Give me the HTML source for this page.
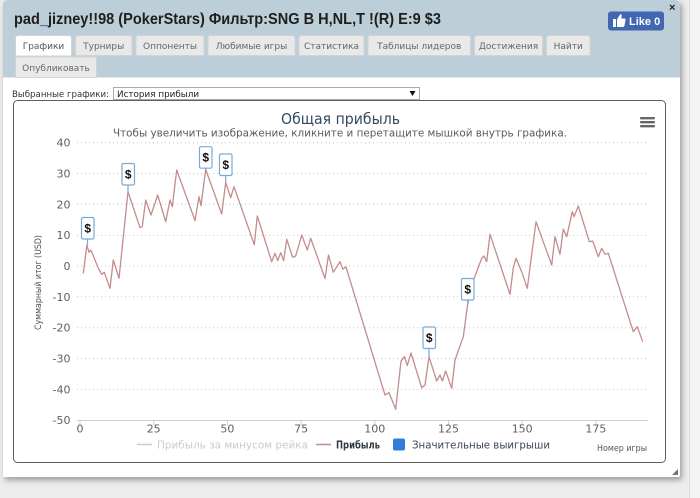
<!DOCTYPE html>
<html>
<head>
<meta charset="utf-8">
<style>
html,body{margin:0;padding:0;width:700px;height:498px;overflow:hidden;background:#ececec;}
svg{display:block;}
.dv{font-family:"DejaVu Sans","Liberation Sans","Noto Sans CJK SC",sans-serif;}
.lb{font-family:"Liberation Sans","DejaVu Sans","Noto Sans CJK SC",sans-serif;}
</style>
</head>
<body>
<svg width="700" height="498" viewBox="0 0 700 498" xmlns="http://www.w3.org/2000/svg">
  <defs>
    <filter id="sh" x="-5%" y="-5%" width="112%" height="112%">
      <feDropShadow dx="2" dy="3" stdDeviation="3" flood-color="#000" flood-opacity="0.35"/>
    </filter>
  </defs>
  <!-- page background -->
  <rect x="0" y="0" width="700" height="498" fill="#ececec"/>
  <rect x="690" y="0" width="10" height="498" fill="#f4f4f4"/>
  <line x1="689.5" y1="0" x2="689.5" y2="498" stroke="#dedede"/>

  <!-- modal -->
  <path d="M3,477 V5 Q3,0 8,0 H675 Q680,0 680,5 V475 Q680,477 678,477 Z" fill="#ffffff" filter="url(#sh)"/>
  <path d="M3,77.5 V5 Q3,0 8,0 H675 Q680,0 680,5 V77.5 Z" fill="#bccfd8"/>

  <!-- title -->
  <text class="lb" x="14" y="24" font-size="15.5" font-weight="bold" fill="#1e1e1e" textLength="427" lengthAdjust="spacingAndGlyphs">pad_jizney!!98 (PokerStars) Фильтр:SNG B H,NL,T !(R) E:9 $3</text>

  <!-- like button -->
  <rect x="608" y="11.5" width="56" height="19" rx="3" fill="#4267b2"/>
  <path d="M613,19 h3 v8 h-3 z M617,19.5 l3,-5 q1.5,-1 1.8,1 l-0.6,3 h3.3 q1.2,0.3 1,1.6 l-1,5.5 q-0.3,1.3 -1.6,1.4 h-5.9 z" fill="#ffffff"/>
  <text class="lb" x="629" y="25" font-size="11" font-weight="bold" fill="#ffffff">Like 0</text>
  <!-- close -->
  <text class="lb" x="669" y="11" font-size="11" font-weight="bold" fill="#222">×</text>

  <!-- tabs row 1 -->
  <g class="dv" font-size="9" fill="#666" text-anchor="middle">
    <path d="M15.5,56 V38 Q15.5,35.5 18,35.5 H69 Q71.5,35.5 71.5,38 V56 Z" fill="#ffffff" stroke="#d3d3d3"/>
    <text x="43.5" y="49" fill="#555">Графики</text>
    <path d="M75.5,55.5 V38 Q75.5,35.5 78,35.5 H129.5 Q132,35.5 132,38 V55.5 Z" fill="#e9e9e9" stroke="#d3d3d3"/>
    <text x="103.7" y="49">Турниры</text>
    <path d="M136,55.5 V38 Q136,35.5 138.5,35.5 H201.5 Q204,35.5 204,38 V55.5 Z" fill="#e9e9e9" stroke="#d3d3d3"/>
    <text x="170" y="49">Оппоненты</text>
    <path d="M208,55.5 V38 Q208,35.5 210.5,35.5 H292.5 Q295,35.5 295,38 V55.5 Z" fill="#e9e9e9" stroke="#d3d3d3"/>
    <text x="251.5" y="49">Любимые игры</text>
    <path d="M299,55.5 V38 Q299,35.5 301.5,35.5 H361.5 Q364,35.5 364,38 V55.5 Z" fill="#e9e9e9" stroke="#d3d3d3"/>
    <text x="331.5" y="49">Статистика</text>
    <path d="M368,55.5 V38 Q368,35.5 370.5,35.5 H468 Q470.5,35.5 470.5,38 V55.5 Z" fill="#e9e9e9" stroke="#d3d3d3"/>
    <text x="419.2" y="49">Таблицы лидеров</text>
    <path d="M474.5,55.5 V38 Q474.5,35.5 477,35.5 H540 Q542.5,35.5 542.5,38 V55.5 Z" fill="#e9e9e9" stroke="#d3d3d3"/>
    <text x="508.5" y="49">Достижения</text>
    <path d="M546.5,55.5 V38 Q546.5,35.5 549,35.5 H587.5 Q590,35.5 590,38 V55.5 Z" fill="#e9e9e9" stroke="#d3d3d3"/>
    <text x="568.2" y="49">Найти</text>
    <!-- row 2 -->
    <path d="M15.5,77.5 V59.5 Q15.5,57 18,57 H94 Q96.5,57 96.5,59.5 V77.5 Z" fill="#e9e9e9" stroke="#d3d3d3"/>
    <text x="56" y="71">Опубликовать</text>
  </g>

  <!-- selector -->
  <text class="dv" x="12" y="97" font-size="8.8" fill="#333" textLength="97" lengthAdjust="spacingAndGlyphs">Выбранные графики:</text>
  <rect x="113.5" y="87.5" width="306" height="12" fill="#ffffff" stroke="#a9a9a9"/>
  <text class="dv" x="117" y="97" font-size="8.8" fill="#222">История прибыли</text>
  <path d="M409.5,91 h6 l-3,5 z" fill="#111"/>

  <!-- chart container -->
  <rect x="13.5" y="100.5" width="652" height="362" rx="4" fill="#ffffff" stroke="#5f5f5f"/>

  <!-- chart title -->
  <text class="dv" x="340.5" y="124" font-size="15" fill="#34495e" text-anchor="middle" textLength="119" lengthAdjust="spacingAndGlyphs">Общая прибыль</text>
  <text class="dv" x="340" y="136.5" font-size="10.5" fill="#555b63" text-anchor="middle" textLength="454" lengthAdjust="spacingAndGlyphs">Чтобы увеличить изображение, кликните и перетащите мышкой внутрь графика.</text>

  <!-- menu icon -->
  <g fill="#666">
    <rect x="640" y="117" width="15" height="2.4" rx="1"/>
    <rect x="640" y="121" width="15" height="2.4" rx="1"/>
    <rect x="640" y="125" width="15" height="2.4" rx="1"/>
  </g>

  <!-- grid lines -->
  <g stroke="#c4c4c4" stroke-width="1" stroke-dasharray="1,3">
    <line x1="77" y1="142.7" x2="648" y2="142.7"/>
    <line x1="77" y1="173.5" x2="648" y2="173.5"/>
    <line x1="77" y1="204.3" x2="648" y2="204.3"/>
    <line x1="77" y1="235.2" x2="648" y2="235.2"/>
    <line x1="77" y1="266" x2="648" y2="266"/>
    <line x1="77" y1="296.8" x2="648" y2="296.8"/>
    <line x1="77" y1="327.7" x2="648" y2="327.7"/>
    <line x1="77" y1="358.5" x2="648" y2="358.5"/>
    <line x1="77" y1="389.3" x2="648" y2="389.3"/>
  </g>
  <!-- x axis -->
  <line x1="77" y1="420.5" x2="648" y2="420.5" stroke="#c0d0e0"/>
  <g stroke="#c0d0e0">
    <line x1="80" y1="420" x2="80" y2="425"/>
    <line x1="153.7" y1="420" x2="153.7" y2="425"/>
    <line x1="227.4" y1="420" x2="227.4" y2="425"/>
    <line x1="301.1" y1="420" x2="301.1" y2="425"/>
    <line x1="374.8" y1="420" x2="374.8" y2="425"/>
    <line x1="448.5" y1="420" x2="448.5" y2="425"/>
    <line x1="522.2" y1="420" x2="522.2" y2="425"/>
    <line x1="595.9" y1="420" x2="595.9" y2="425"/>
  </g>

  <!-- y labels -->
  <g class="dv" font-size="11" fill="#606060" text-anchor="end">
    <text x="70.5" y="146.7">40</text>
    <text x="70.5" y="177.5">30</text>
    <text x="70.5" y="208.3">20</text>
    <text x="70.5" y="239.2">10</text>
    <text x="70.5" y="270">0</text>
    <text x="70.5" y="300.8">-10</text>
    <text x="70.5" y="331.7">-20</text>
    <text x="70.5" y="362.5">-30</text>
    <text x="70.5" y="393.3">-40</text>
    <text x="70.5" y="424.2">-50</text>
  </g>
  <!-- x labels -->
  <g class="dv" font-size="11" fill="#606060" text-anchor="middle">
    <text x="80" y="432.5">0</text>
    <text x="153.7" y="432.5">25</text>
    <text x="227.4" y="432.5">50</text>
    <text x="301.1" y="432.5">75</text>
    <text x="374.8" y="432.5">100</text>
    <text x="448.5" y="432.5">125</text>
    <text x="522.2" y="432.5">150</text>
    <text x="595.9" y="432.5">175</text>
  </g>

  <!-- y axis title -->
  <text class="dv" transform="translate(41,282.5) rotate(-90)" font-size="9" fill="#4d4d4d" text-anchor="middle" textLength="95" lengthAdjust="spacingAndGlyphs">Суммарный итог (USD)</text>

  <!-- series -->
  <polyline fill="none" stroke="#c48c8c" stroke-width="1.3" stroke-linejoin="round" points="
83.3,273.3 86.9,245 89,252.3 90.7,250 92.3,253.3 98.3,268.3 101.7,274.3 104.3,272.3 110,288.3 113.3,260 119,278.3
128,191.7 140,227.7 142.3,226.7 145.7,200 151,215 157.7,195 165.7,221.7 170,200 172.3,206.7 176.7,170
195,220.5 199,196.7 201,205.7 205.7,169.5 221.7,214 225.7,182.5 230.7,197.7 234,186.7 254.3,244.7 257.3,216
271.7,261.7 275,253.3 277.7,260.7 280.7,252.7 283.7,260.7 286.7,239.3 292.7,257.3 295.7,256 301.7,235 307.3,250
310.7,238.3 325,278.5 328.5,255 333.3,272.2 340,261.7 342.9,269.2 345.9,266.7 385,395 389,392.7 395.7,409.3
401,361.2 404.5,356.7 407.3,365.5 411,353 421.7,387.7 425,385 429,356.7 436.7,381 440,375 442.3,381 445.7,371
451.7,388.3 455,360 463.3,336.7 467.7,304 471.7,285 481.7,258.3 484,256 486.7,261.7 490,234.3 510,294.3
513.3,267.7 516,258.3 521.7,271.7 527.3,288.3 536,221.7 551.7,265 555,236.7 560,254.3 563.3,229 566.7,236.7
572.3,211.7 574,216.7 578.3,206 589.3,241.7 592.7,241 598.3,256.7 601.7,248.3 605,254.3 608.3,253.3
633.3,331.7 637.3,326.7 642.7,341.7"/>

  <!-- flags -->
  <g stroke="#7aaad6" stroke-width="1.2" fill="#ffffff">
    <line x1="87.5" y1="239" x2="87.5" y2="245"/>
    <rect x="81.5" y="217.5" width="12.5" height="21.5" rx="1.5"/>
    <line x1="128" y1="185" x2="128" y2="191.7"/>
    <rect x="122" y="163.5" width="12.5" height="21.5" rx="1.5"/>
    <line x1="205.7" y1="168" x2="205.7" y2="169.5"/>
    <rect x="199.5" y="146.7" width="12.5" height="21.5" rx="1.5"/>
    <line x1="225.7" y1="175.5" x2="225.7" y2="182.5"/>
    <rect x="219.5" y="154" width="12.5" height="21.5" rx="1.5"/>
    <line x1="429" y1="349" x2="429" y2="356.7"/>
    <rect x="423" y="327" width="12.5" height="21.5" rx="1.5"/>
    <line x1="467.7" y1="300" x2="467.7" y2="304"/>
    <rect x="461.5" y="278.5" width="12.5" height="21.5" rx="1.5"/>
  </g>
  <g class="lb" font-size="12" font-weight="bold" fill="#111" text-anchor="middle">
    <text x="87.75" y="232.5">$</text>
    <text x="128.25" y="178.5">$</text>
    <text x="205.75" y="161.7">$</text>
    <text x="225.75" y="169">$</text>
    <text x="429.25" y="342">$</text>
    <text x="467.75" y="293.5">$</text>
  </g>

  <!-- legend -->
  <line x1="137" y1="444.5" x2="152" y2="444.5" stroke="#cccccc" stroke-width="1.5"/>
  <text class="dv" x="157" y="448.5" font-size="11" fill="#cccccc" textLength="151" lengthAdjust="spacingAndGlyphs">Прибыль за минусом рейка</text>
  <line x1="316" y1="444.5" x2="331" y2="444.5" stroke="#c48c8c" stroke-width="1.5"/>
  <text class="dv" x="336" y="448.5" font-size="11" font-weight="bold" fill="#333a44" textLength="44" lengthAdjust="spacingAndGlyphs">Прибыль</text>
  <rect x="393" y="438.5" width="12" height="12" rx="2" fill="#2f7ed8"/>
  <text class="dv" x="412" y="448.5" font-size="11" fill="#3a4654" textLength="138" lengthAdjust="spacingAndGlyphs">Значительные выигрыши</text>

  <!-- x axis title -->
  <text class="dv" x="597" y="451" font-size="9" fill="#555" textLength="50" lengthAdjust="spacingAndGlyphs">Номер игры</text>

  <!-- resize grip -->
  <path d="M678,469 L678,475 L672,475 Z" fill="#777"/>
</svg>
</body>
</html>
